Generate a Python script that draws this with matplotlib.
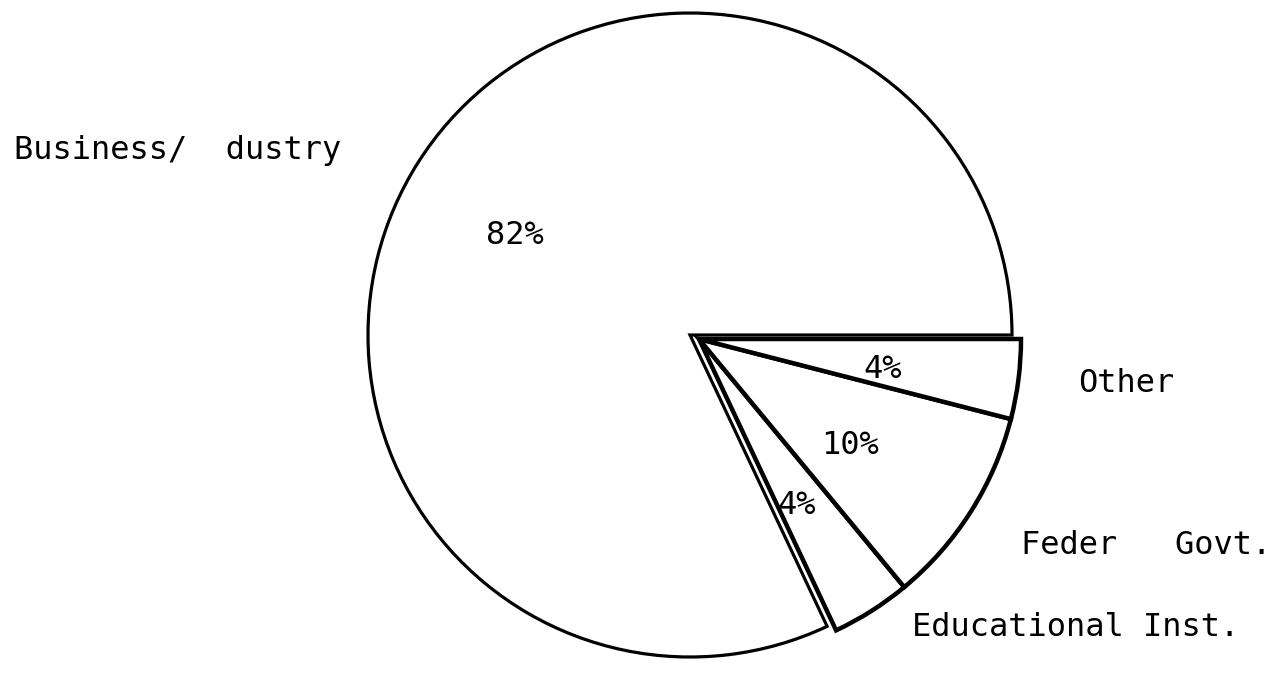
import matplotlib
matplotlib.use('Agg')
import matplotlib.pyplot as plt

# Funding sources, in percent
sources = ['Business/  dustry', 'Educational Inst.', 'Feder   Govt.', 'Other']
shares = [82, 4, 10, 4]
pct_labels = ['82%', '4%', '10%', '4%']

W, H = 1275, 677
fig = plt.figure(figsize=(W / 100, H / 100), dpi=100)
ax = fig.add_axes([0, 0, 1, 1])

plt.rcParams['font.family'] = ['DejaVu Sans Mono']
font = dict(fontsize=23, color='black', family='DejaVu Sans Mono')

R = 322
big_center = (690, H - 335)
# the three small slices are pulled out together as one group
small_center = (699, H - 339)

wedge_style = dict(edgecolor='black', linewidth=2.3, facecolor='white')

big, _ = ax.pie(shares, radius=R, center=big_center, startangle=0,
                counterclock=True, wedgeprops=wedge_style, normalize=True)
small, _ = ax.pie(shares, radius=R, center=small_center, startangle=0,
                  counterclock=True, wedgeprops=wedge_style, normalize=True)

for w in big[1:]:
    w.set_visible(False)
small[0].set_visible(False)
# shared edges between the small slices come out heavier
for w in small[1:]:
    w.set_linewidth(3.2)

# percentage labels inside the slices
pct_pos = [(515, 235), (797, 505), (850, 446), (883, 370)]
for txt, (px, py) in zip(pct_labels, pct_pos):
    ax.text(px, H - py, txt, ha='center', va='center', **font)

# source names outside the pie
name_pos = [(14, 150), (912, 628), (1021, 545), (1078, 383)]
for txt, (px, py) in zip(sources, name_pos):
    ax.text(px, H - py, txt, ha='left', va='center', **font)

ax.set_xlim(0, W)
ax.set_ylim(0, H)
ax.set_aspect('equal')
ax.axis('off')

fig.savefig('out.png', dpi=100, facecolor='white')
